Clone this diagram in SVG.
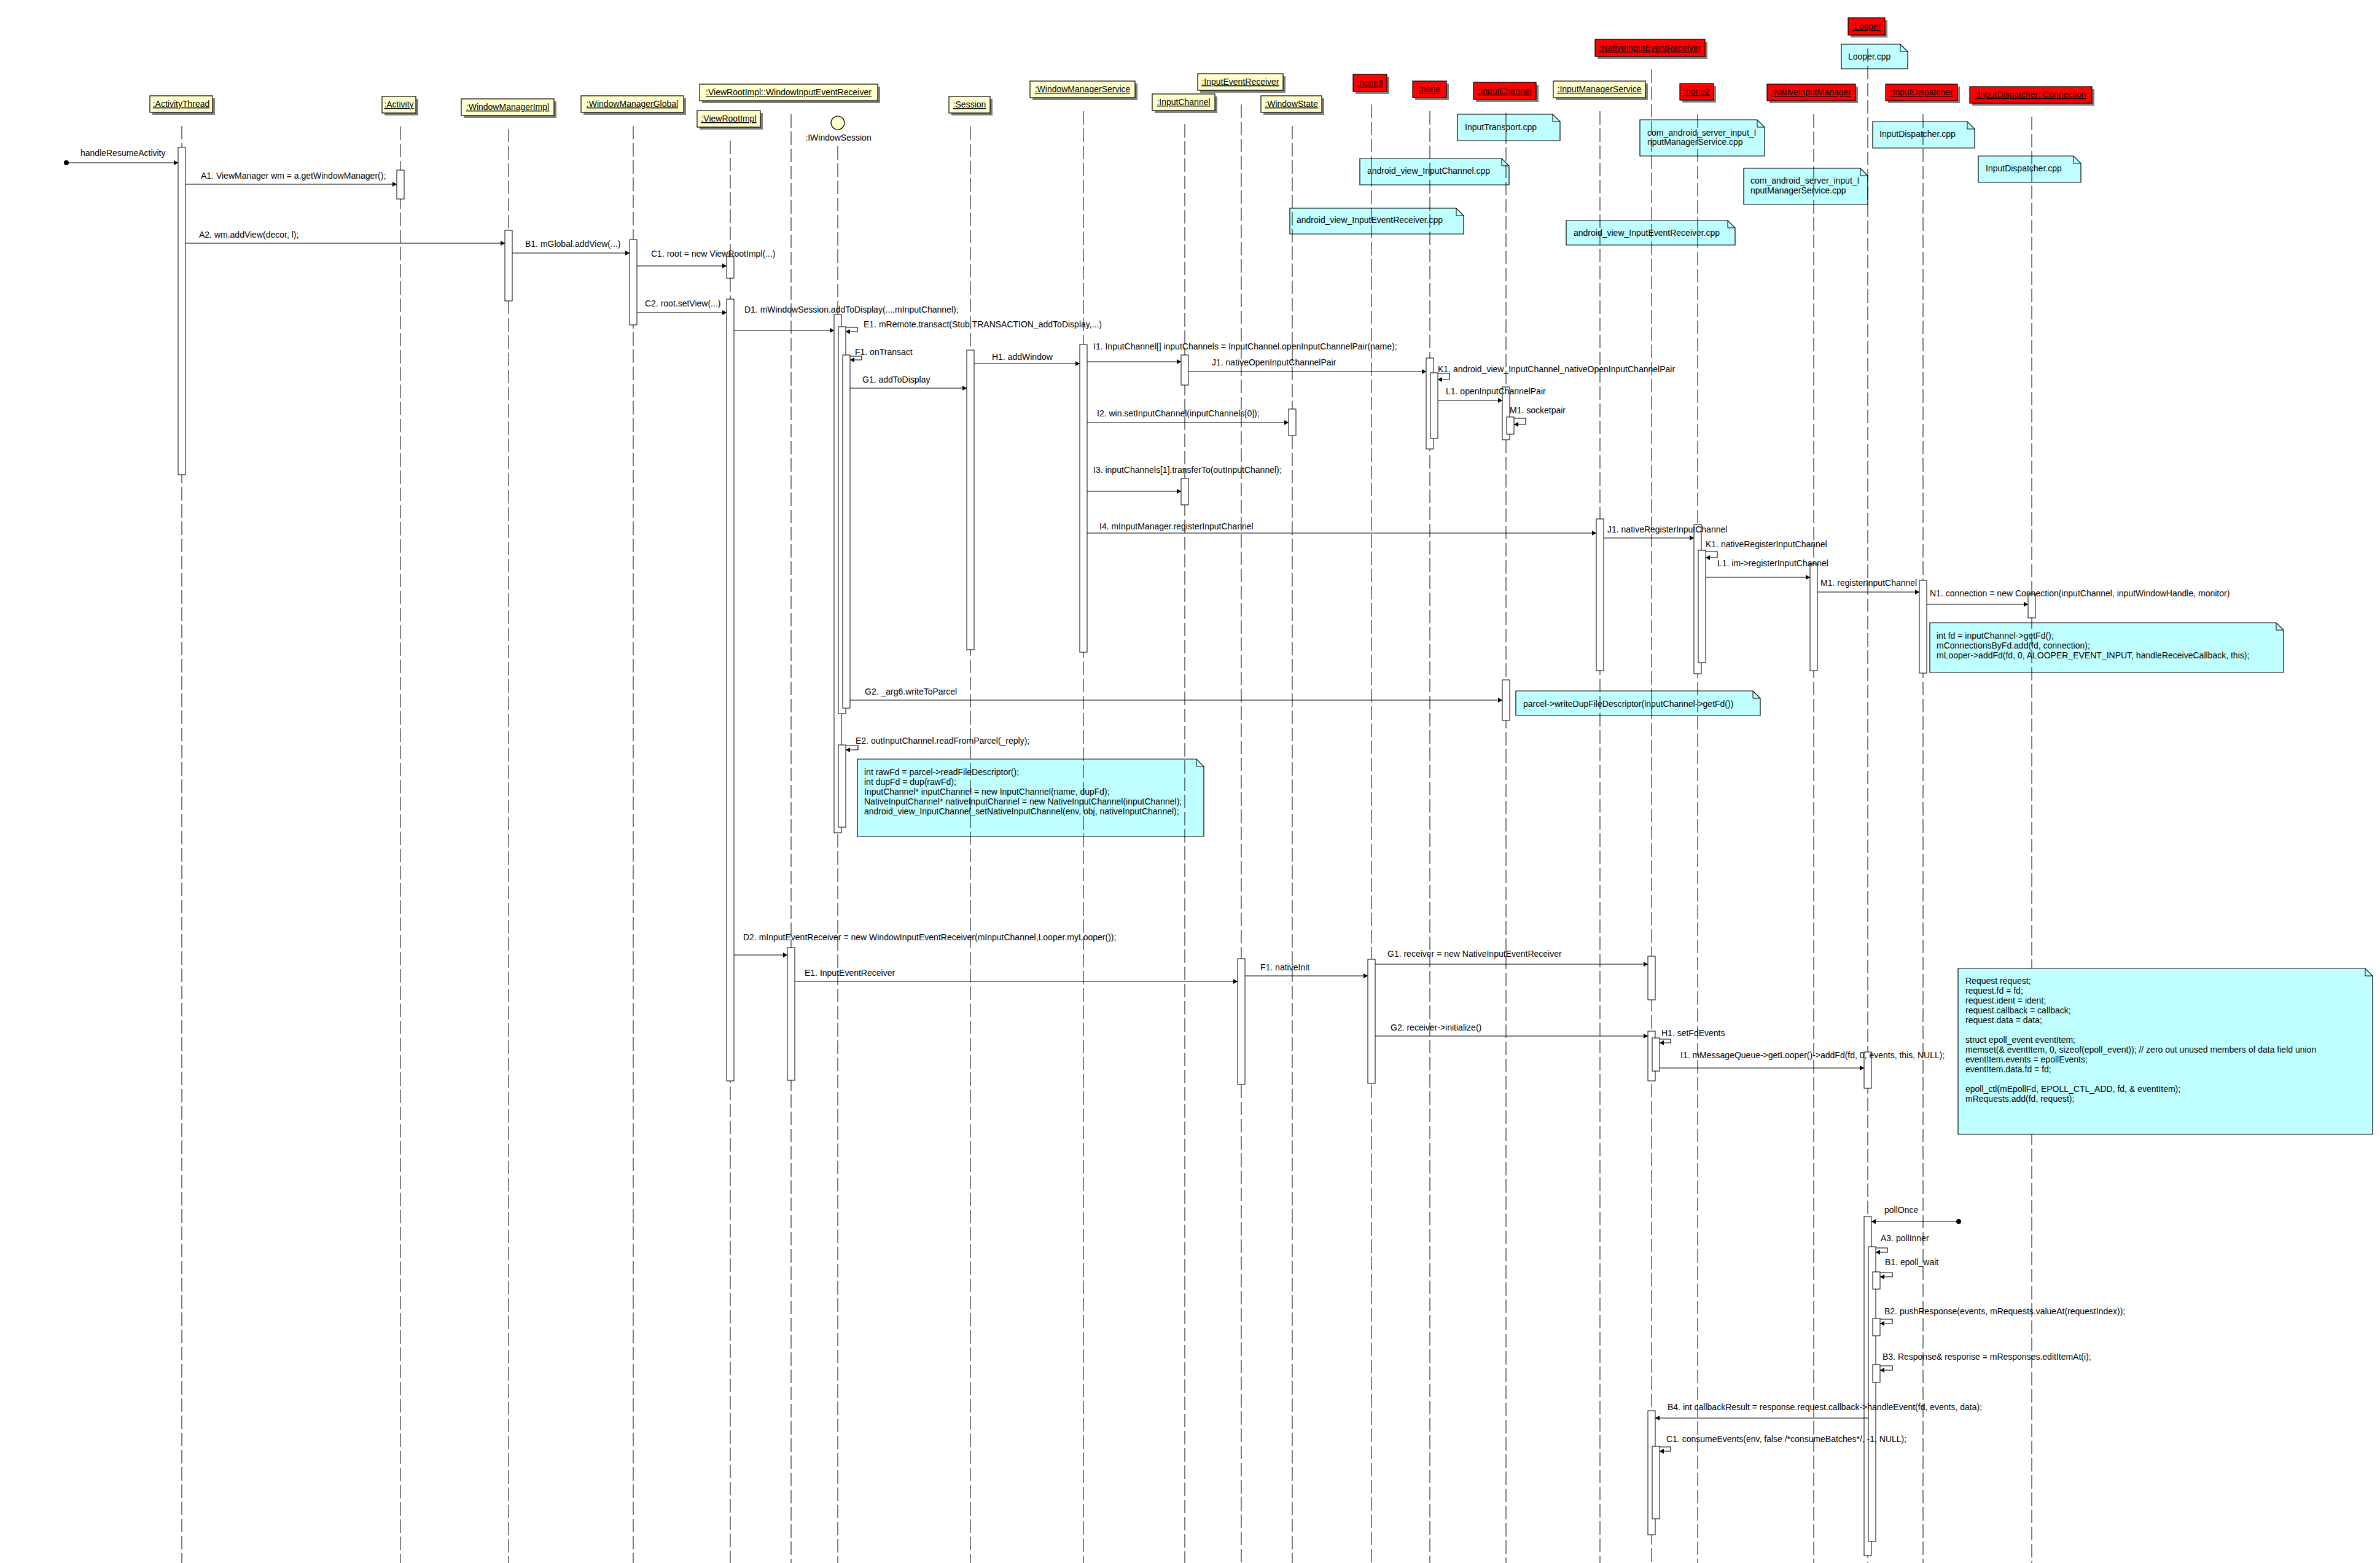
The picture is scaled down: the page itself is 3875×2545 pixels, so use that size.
<svg xmlns="http://www.w3.org/2000/svg" width="3875" height="2545" viewBox="0 0 3875 2545">
<defs>
<style>
text{font-family:"Liberation Sans",Arial,sans-serif;font-size:14px;fill:#000}
.hd{text-anchor:middle;text-decoration:underline}
.sh{fill:#808080}
.by{fill:#FFFFCC;stroke:#000;stroke-width:1.2}
.br{fill:#FF0000;stroke:#000;stroke-width:1.2}
.life{stroke:#000;stroke-width:1;stroke-dasharray:22 6;fill:none}
.bar{fill:#fff;stroke:#000;stroke-width:1}
.msg{stroke:#000;stroke-width:1.2;fill:none;marker-end:url(#ah)}
.note{fill:#C0FFFF;stroke:#000;stroke-width:1.2}
.fold{fill:none;stroke:#000;stroke-width:1}
</style>
<marker id="ah" markerWidth="8" markerHeight="8" refX="7" refY="4" orient="auto" markerUnits="userSpaceOnUse"><path d="M0,0 L7,4 L0,8 z" fill="#000"/></marker>
</defs>
<rect x="0" y="0" width="3875" height="2545" fill="#fff"/>

<g id="notes">
<g id="note-looper-cpp"><path class="note" d="M2998,72 H3094 L3106,84 V112 H2998 Z"/><path class="fold" d="M3094,72 V84 H3106"/><text x="3009" y="97">Looper.cpp</text></g>
<g id="note-inputtransport"><path class="note" d="M2373,186 H2528 L2540,198 V229 H2373 Z"/><path class="fold" d="M2528,186 V198 H2540"/><text x="2385" y="212">InputTransport.cpp</text></g>
<g id="note-av-inputchannel"><path class="note" d="M2214,258 H2445 L2457,270 V301 H2214 Z"/><path class="fold" d="M2445,258 V270 H2457"/><text x="2226" y="283">android_view_InputChannel.cpp</text></g>
<g id="note-cas-ims-1"><path class="note" d="M2670,195 H2861 L2873,207 V254 H2670 Z"/><path class="fold" d="M2861,195 V207 H2873"/><text x="2682" y="221">com_android_server_input_I</text><text x="2682" y="236">nputManagerService.cpp</text></g>
<g id="note-cas-ims-2"><path class="note" d="M2839,274 H3029 L3041,286 V333 H2839 Z"/><path class="fold" d="M3029,274 V286 H3041"/><text x="2850" y="299">com_android_server_input_I</text><text x="2850" y="315">nputManagerService.cpp</text></g>
<g id="note-av-ier-1"><path class="note" d="M2100,339 H2371 L2383,351 V381 H2100 Z"/><path class="fold" d="M2371,339 V351 H2383"/><text x="2111" y="363">android_view_InputEventReceiver.cpp</text></g>
<g id="note-av-ier-2"><path class="note" d="M2550,359 H2813 L2825,371 V399 H2550 Z"/><path class="fold" d="M2813,359 V371 H2825"/><text x="2562" y="384">android_view_InputEventReceiver.cpp</text></g>
<g id="note-inputdispatcher-1"><path class="note" d="M3049,198 H3203 L3215,210 V241 H3049 Z"/><path class="fold" d="M3203,198 V210 H3215"/><text x="3060" y="223">InputDispatcher.cpp</text></g>
<g id="note-inputdispatcher-2"><path class="note" d="M3221,254 H3376 L3388,266 V297 H3221 Z"/><path class="fold" d="M3376,254 V266 H3388"/><text x="3233" y="279">InputDispatcher.cpp</text></g>
<g id="note-parcel"><path class="note" d="M2468,1125 H2854 L2866,1137 V1165 H2468 Z"/><path class="fold" d="M2854,1125 V1137 H2866"/><text x="2480" y="1151">parcel-&gt;writeDupFileDescriptor(inputChannel-&gt;getFd())</text></g>
<g id="note-intfd"><path class="note" d="M3142,1014 H3706 L3718,1026 V1095 H3142 Z"/><path class="fold" d="M3706,1014 V1026 H3718"/>
<text x="3153" y="1040">int fd = inputChannel-&gt;getFd();</text>
<text x="3153" y="1056">mConnectionsByFd.add(fd, connection);</text>
<text x="3153" y="1072">mLooper-&gt;addFd(fd, 0, ALOOPER_EVENT_INPUT, handleReceiveCallback, this);</text></g>
<g id="note-rawfd"><path class="note" d="M1396,1236 H1948 L1960,1248 V1362 H1396 Z"/><path class="fold" d="M1948,1236 V1248 H1960"/>
<text x="1407" y="1262">int rawFd = parcel-&gt;readFileDescriptor();</text>
<text x="1407" y="1278">int dupFd = dup(rawFd);</text>
<text x="1407" y="1294">InputChannel* inputChannel = new InputChannel(name, dupFd);</text>
<text x="1407" y="1310">NativeInputChannel* nativeInputChannel = new NativeInputChannel(inputChannel);</text>
<text x="1407" y="1326">android_view_InputChannel_setNativeInputChannel(env, obj, nativeInputChannel);</text></g>
</g>

<g id="n-activitythread"><rect class="sh" x="248" y="160" width="102" height="27"/><rect class="by" x="244" y="156" width="102" height="27"/><text class="hd" x="295" y="174">:ActivityThread</text>
<line class="life" x1="296" y1="205" x2="296" y2="2545"/>
<rect class="bar" x="290" y="240" width="12" height="533"/></g>

<g id="n-activity"><rect class="sh" x="626" y="161" width="55" height="27"/><rect class="by" x="622" y="157" width="55" height="27"/><text class="hd" x="649.5" y="175">:Activity</text>
<line class="life" x1="652" y1="206" x2="652" y2="2545"/>
<rect class="bar" x="646" y="277" width="12" height="47"/></g>

<g id="n-windowmanagerimpl"><rect class="sh" x="755" y="165" width="151" height="27"/><rect class="by" x="751" y="161" width="151" height="27"/><text class="hd" x="826.5" y="179">:WindowManagerImpl</text>
<line class="life" x1="828" y1="210" x2="828" y2="2545"/>
<rect class="bar" x="822" y="375" width="12" height="115"/></g>

<g id="n-windowmanagerglobal"><rect class="sh" x="950" y="160" width="167" height="27"/><rect class="by" x="946" y="156" width="167" height="27"/><text class="hd" x="1029.5" y="174">:WindowManagerGlobal</text>
<line class="life" x1="1031" y1="205" x2="1031" y2="2545"/>
<rect class="bar" x="1025" y="390" width="12" height="139"/></g>

<g id="n-wier"><rect class="sh" x="1143" y="141" width="290" height="27"/><rect class="by" x="1139" y="137" width="290" height="27"/><text class="hd" x="1284" y="155">:ViewRootImpl::WindowInputEventReceiver</text>
<line class="life" x1="1288" y1="186" x2="1288" y2="2545"/>
<rect class="bar" x="1282" y="1543" width="12" height="216"/></g>

<g id="n-viewrootimpl"><rect class="sh" x="1139" y="184" width="103" height="27"/><rect class="by" x="1135" y="180" width="103" height="27"/><text class="hd" x="1186.5" y="198">:ViewRootImpl</text>
<line class="life" x1="1189" y1="229" x2="1189" y2="2545"/>
<rect class="bar" x="1183" y="418" width="12" height="35"/>
<rect class="bar" x="1183" y="487" width="12" height="1273"/></g>

<g id="n-iwindowsession"><circle cx="1364" cy="200" r="11" fill="#FFFFCC" stroke="#000" stroke-width="1.2"/><text x="1365" y="229" text-anchor="middle">:IWindowSession</text>
<line class="life" x1="1364" y1="238" x2="1364" y2="2545"/>
<rect class="bar" x="1358" y="512" width="12" height="844"/>
<rect class="bar" x="1365" y="532" width="12" height="630"/>
<rect class="bar" x="1372" y="578" width="12" height="575"/>
<rect class="bar" x="1365" y="1213" width="12" height="134"/></g>

<g id="n-session"><rect class="sh" x="1549" y="161" width="67" height="27"/><rect class="by" x="1545" y="157" width="67" height="27"/><text class="hd" x="1578.5" y="175">:Session</text>
<line class="life" x1="1580" y1="206" x2="1580" y2="2545"/>
<rect class="bar" x="1574" y="570" width="12" height="488"/></g>

<g id="n-windowmanagerservice"><rect class="sh" x="1681" y="136" width="171" height="27"/><rect class="by" x="1677" y="132" width="171" height="27"/><text class="hd" x="1762.5" y="150">:WindowManagerService</text>
<line class="life" x1="1764" y1="181" x2="1764" y2="2545"/>
<rect class="bar" x="1758" y="561" width="12" height="501"/></g>

<g id="n-inputchannel"><rect class="sh" x="1880" y="157" width="102" height="27"/><rect class="by" x="1876" y="153" width="102" height="27"/><text class="hd" x="1927" y="171">:InputChannel</text>
<line class="life" x1="1929" y1="202" x2="1929" y2="2545"/>
<rect class="bar" x="1923" y="578" width="12" height="49"/>
<rect class="bar" x="1923" y="779" width="12" height="43"/></g>

<g id="n-inputeventreceiver"><rect class="sh" x="1954" y="124" width="139" height="27"/><rect class="by" x="1950" y="120" width="139" height="27"/><text class="hd" x="2019.5" y="138">:InputEventReceiver</text>
<line class="life" x1="2021" y1="170" x2="2021" y2="2545"/>
<rect class="bar" x="2015" y="1561" width="12" height="205"/></g>

<g id="n-windowstate"><rect class="sh" x="2057" y="160" width="99" height="27"/><rect class="by" x="2053" y="156" width="99" height="27"/><text class="hd" x="2102.5" y="174">:WindowState</text>
<line class="life" x1="2104" y1="205" x2="2104" y2="2545"/>
<rect class="bar" x="2098" y="666" width="12" height="43"/></g>

<g id="n-none3"><rect class="sh" x="2207" y="125" width="55" height="28"/><rect class="br" x="2203" y="121" width="55" height="28"/><text class="hd" x="2230.5" y="140">:none3</text>
<line class="life" x1="2233" y1="170" x2="2233" y2="2545"/>
<rect class="bar" x="2227" y="1562" width="12" height="202"/></g>

<g id="n-none"><rect class="sh" x="2304" y="136" width="55" height="27"/><rect class="br" x="2300" y="132" width="55" height="27"/><text class="hd" x="2327.5" y="150">:none</text>
<line class="life" x1="2328" y1="181" x2="2328" y2="2545"/>
<rect class="bar" x="2322" y="583" width="12" height="148"/>
<rect class="bar" x="2329" y="607" width="12" height="107"/></g>

<g id="n-inputchannel-native"><rect class="sh" x="2403" y="138" width="102" height="28"/><rect class="br" x="2399" y="134" width="102" height="28"/><text class="hd" x="2450" y="153">:InputChannel</text>
<line class="life" x1="2452" y1="184" x2="2452" y2="2545"/>
<rect class="bar" x="2446" y="630" width="12" height="86"/>
<rect class="bar" x="2453" y="679" width="12" height="28"/>
<rect class="bar" x="2446" y="1107" width="12" height="66"/></g>

<g id="n-inputmanagerservice"><rect class="sh" x="2533" y="136" width="150" height="27"/><rect class="by" x="2529" y="132" width="150" height="27"/><text class="hd" x="2604" y="150">:InputManagerService</text>
<line class="life" x1="2605" y1="181" x2="2605" y2="2545"/>
<rect class="bar" x="2599" y="845" width="12" height="247"/></g>

<g id="n-nativeinputeventreceiver"><rect class="sh" x="2601" y="68" width="179" height="28"/><rect class="br" x="2597" y="64" width="179" height="28"/><text class="hd" x="2686.5" y="83">:NativeInputEventReceiver</text>
<line class="life" x1="2689" y1="113" x2="2689" y2="2545"/>
<rect class="bar" x="2683" y="1557" width="12" height="71"/>
<rect class="bar" x="2683" y="1679" width="12" height="81"/>
<rect class="bar" x="2690" y="1690" width="12" height="54"/>
<rect class="bar" x="2683" y="2297" width="12" height="202"/>
<rect class="bar" x="2690" y="2355" width="12" height="118"/></g>

<g id="n-none2"><rect class="sh" x="2739" y="140" width="55" height="27"/><rect class="br" x="2735" y="136" width="55" height="27"/><text class="hd" x="2762.5" y="154">:none2</text>
<line class="life" x1="2764" y1="186" x2="2764" y2="2545"/>
<rect class="bar" x="2758" y="854" width="12" height="243"/>
<rect class="bar" x="2765" y="896" width="12" height="183"/></g>

<g id="n-nativeinputmanager"><rect class="sh" x="2881" y="141" width="144" height="27"/><rect class="br" x="2877" y="137" width="144" height="27"/><text class="hd" x="2949" y="155">:NativeInputManager</text>
<line class="life" x1="2953" y1="186" x2="2953" y2="2545"/>
<rect class="bar" x="2947" y="918" width="12" height="174"/></g>

<g id="n-looper"><rect class="sh" x="3013" y="33" width="60" height="28"/><rect class="br" x="3009" y="29" width="60" height="28"/><text class="hd" x="3039" y="48">:Looper</text>
<line class="life" x1="3041" y1="79" x2="3041" y2="2545"/>
<rect class="bar" x="3035" y="1713" width="12" height="59"/>
<rect class="bar" x="3035" y="1981" width="12" height="552"/>
<rect class="bar" x="3042" y="2030" width="12" height="480"/>
<rect class="bar" x="3049" y="2071" width="12" height="28"/>
<rect class="bar" x="3049" y="2147" width="12" height="28"/>
<rect class="bar" x="3049" y="2222" width="12" height="29"/></g>

<g id="n-inputdispatcher"><rect class="sh" x="3074" y="141" width="117" height="27"/><rect class="br" x="3070" y="137" width="117" height="27"/><text class="hd" x="3128.5" y="155">:InputDispatcher</text>
<line class="life" x1="3131" y1="186" x2="3131" y2="2545"/>
<rect class="bar" x="3125" y="945" width="12" height="151"/></g>

<g id="n-connection"><rect class="sh" x="3211" y="145" width="199" height="27"/><rect class="br" x="3207" y="141" width="199" height="27"/><text class="hd" x="3306.5" y="159">:InputDispatcher::Connection</text>
<line class="life" x1="3308" y1="190" x2="3308" y2="2545"/>
<rect class="bar" x="3302" y="967" width="12" height="39"/></g>

<g id="note-request"><path class="note" d="M3188,1577 H3851 L3863,1589 V1847 H3188 Z"/><path class="fold" d="M3851,1577 V1589 H3863"/>
<text x="3200" y="1602">Request request;</text>
<text x="3200" y="1618">request.fd = fd;</text>
<text x="3200" y="1634">request.ident = ident;</text>
<text x="3200" y="1650">request.callback = callback;</text>
<text x="3200" y="1666">request.data = data;</text>
<text x="3200" y="1698">struct epoll_event eventItem;</text>
<text x="3200" y="1714">memset(&amp; eventItem, 0, sizeof(epoll_event)); // zero out unused members of data field union</text>
<text x="3200" y="1730">eventItem.events = epollEvents;</text>
<text x="3200" y="1746">eventItem.data.fd = fd;</text>
<text x="3200" y="1778">epoll_ctl(mEpollFd, EPOLL_CTL_ADD, fd, &amp; eventItem);</text>
<text x="3200" y="1794">mRequests.add(fd, request);</text></g>

<g id="connectors">
<circle cx="108" cy="265" r="4" fill="#000"/>
<line class="msg" x1="108" y1="265" x2="290" y2="265"/><text x="131" y="254">handleResumeActivity</text>
<line class="msg" x1="302" y1="300" x2="646" y2="300"/><text x="327" y="291">A1. ViewManager wm = a.getWindowManager();</text>
<line class="msg" x1="302" y1="396" x2="822" y2="396"/><text x="324" y="387">A2. wm.addView(decor, l);</text>
<line class="msg" x1="834" y1="412" x2="1025" y2="412"/><text x="855" y="402">B1. mGlobal.addView(...)</text>
<line class="msg" x1="1037" y1="433" x2="1183" y2="433"/><text x="1060" y="418">C1. root = new ViewRootImpl(...)</text>
<line class="msg" x1="1037" y1="509" x2="1183" y2="509"/><text x="1050" y="499">C2. root.setView(...)</text>
<line class="msg" x1="1195" y1="538" x2="1358" y2="538"/><text x="1212" y="509">D1. mWindowSession.addToDisplay(...,mInputChannel);</text>
<path class="msg" d="M1377,533 H1396 V540 H1377"/><text x="1406" y="533">E1. mRemote.transact(Stub.TRANSACTION_addToDisplay,...)</text>
<path class="msg" d="M1384,580 H1403 V586 H1384"/><text x="1392" y="578">F1. onTransact</text>
<line class="msg" x1="1384" y1="632" x2="1574" y2="632"/><text x="1404" y="623">G1. addToDisplay</text>
<line class="msg" x1="1586" y1="592" x2="1758" y2="592"/><text x="1615" y="586">H1. addWindow</text>
<line class="msg" x1="1770" y1="589" x2="1923" y2="589"/><text x="1780" y="569">I1. InputChannel[] inputChannels = InputChannel.openInputChannelPair(name);</text>
<line class="msg" x1="1935" y1="605" x2="2322" y2="605"/><text x="1973" y="595">J1. nativeOpenInputChannelPair</text>
<path class="msg" d="M2341,608 H2360 V618 H2341"/><text x="2341" y="606">K1. android_view_InputChannel_nativeOpenInputChannelPair</text>
<line class="msg" x1="2341" y1="652" x2="2446" y2="652"/><text x="2354" y="642">L1. openInputChannelPair</text>
<path class="msg" d="M2465,681 H2484 V691 H2465"/><text x="2458" y="673">M1. socketpair</text>
<line class="msg" x1="1770" y1="688" x2="2098" y2="688"/><text x="1786" y="678">I2. win.setInputChannel(inputChannels[0]);</text>
<line class="msg" x1="1770" y1="800" x2="1923" y2="800"/><text x="1780" y="770">I3. inputChannels[1].transferTo(outInputChannel);</text>
<line class="msg" x1="1770" y1="868" x2="2599" y2="868"/><text x="1790" y="862">I4. mInputManager.registerInputChannel</text>
<line class="msg" x1="2611" y1="876" x2="2758" y2="876"/><text x="2617" y="867">J1. nativeRegisterInputChannel</text>
<path class="msg" d="M2777,898 H2796 V908 H2777"/><text x="2777" y="891">K1. nativeRegisterInputChannel</text>
<line class="msg" x1="2777" y1="940" x2="2947" y2="940"/><text x="2796" y="922">L1. im-&gt;registerInputChannel</text>
<line class="msg" x1="2959" y1="964" x2="3125" y2="964"/><text x="2964" y="954">M1. registerInputChannel</text>
<line class="msg" x1="3137" y1="984" x2="3302" y2="984"/><text x="3142" y="971">N1. connection = new Connection(inputChannel, inputWindowHandle, monitor)</text>
<line class="msg" x1="1384" y1="1140" x2="2446" y2="1140"/><text x="1408" y="1131">G2. _arg6.writeToParcel</text>
<path class="msg" d="M1377,1214 H1397 V1221 H1377"/><text x="1393" y="1211">E2. outInputChannel.readFromParcel(_reply);</text>
<line class="msg" x1="1195" y1="1555" x2="1282" y2="1555"/><text x="1210" y="1531">D2. mInputEventReceiver = new WindowInputEventReceiver(mInputChannel,Looper.myLooper());</text>
<line class="msg" x1="1294" y1="1598" x2="2015" y2="1598"/><text x="1310" y="1589">E1. InputEventReceiver</text>
<line class="msg" x1="2027" y1="1589" x2="2227" y2="1589"/><text x="2052" y="1580">F1. nativeInit</text>
<line class="msg" x1="2239" y1="1570" x2="2683" y2="1570"/><text x="2259" y="1558">G1. receiver = new NativeInputEventReceiver</text>
<line class="msg" x1="2239" y1="1687" x2="2683" y2="1687"/><text x="2264" y="1678">G2. receiver-&gt;initialize()</text>
<path class="msg" d="M2702,1692 H2720 V1698 H2702"/><text x="2705" y="1687">H1. setFdEvents</text>
<line class="msg" x1="2702" y1="1739" x2="3035" y2="1739"/><text x="2736" y="1723">I1. mMessageQueue-&gt;getLooper()-&gt;addFd(fd, 0, events, this, NULL);</text>
<circle cx="3189" cy="1989" r="4" fill="#000"/>
<line class="msg" x1="3189" y1="1989" x2="3047" y2="1989"/><text x="3068" y="1975">pollOnce</text>
<path class="msg" d="M3054,2032 H3073 V2039 H3054"/><text x="3062" y="2021">A3. pollInner</text>
<path class="msg" d="M3061,2072 H3081 V2079 H3061"/><text x="3069" y="2060">B1. epoll_wait</text>
<path class="msg" d="M3061,2148 H3081 V2155 H3061"/><text x="3068" y="2140">B2. pushResponse(events, mRequests.valueAt(requestIndex));</text>
<path class="msg" d="M3061,2224 H3081 V2231 H3061"/><text x="3065" y="2214">B3. Response&amp; response = mResponses.editItemAt(i);</text>
<line class="msg" x1="3042" y1="2309" x2="2695" y2="2309"/><text x="2715" y="2296">B4. int callbackResult = response.request.callback-&gt;handleEvent(fd, events, data);</text>
<path class="msg" d="M2702,2356 H2720 V2363 H2702"/><text x="2713" y="2348">C1. consumeEvents(env, false /*consumeBatches*/, -1, NULL);</text>
</g>
</svg>
